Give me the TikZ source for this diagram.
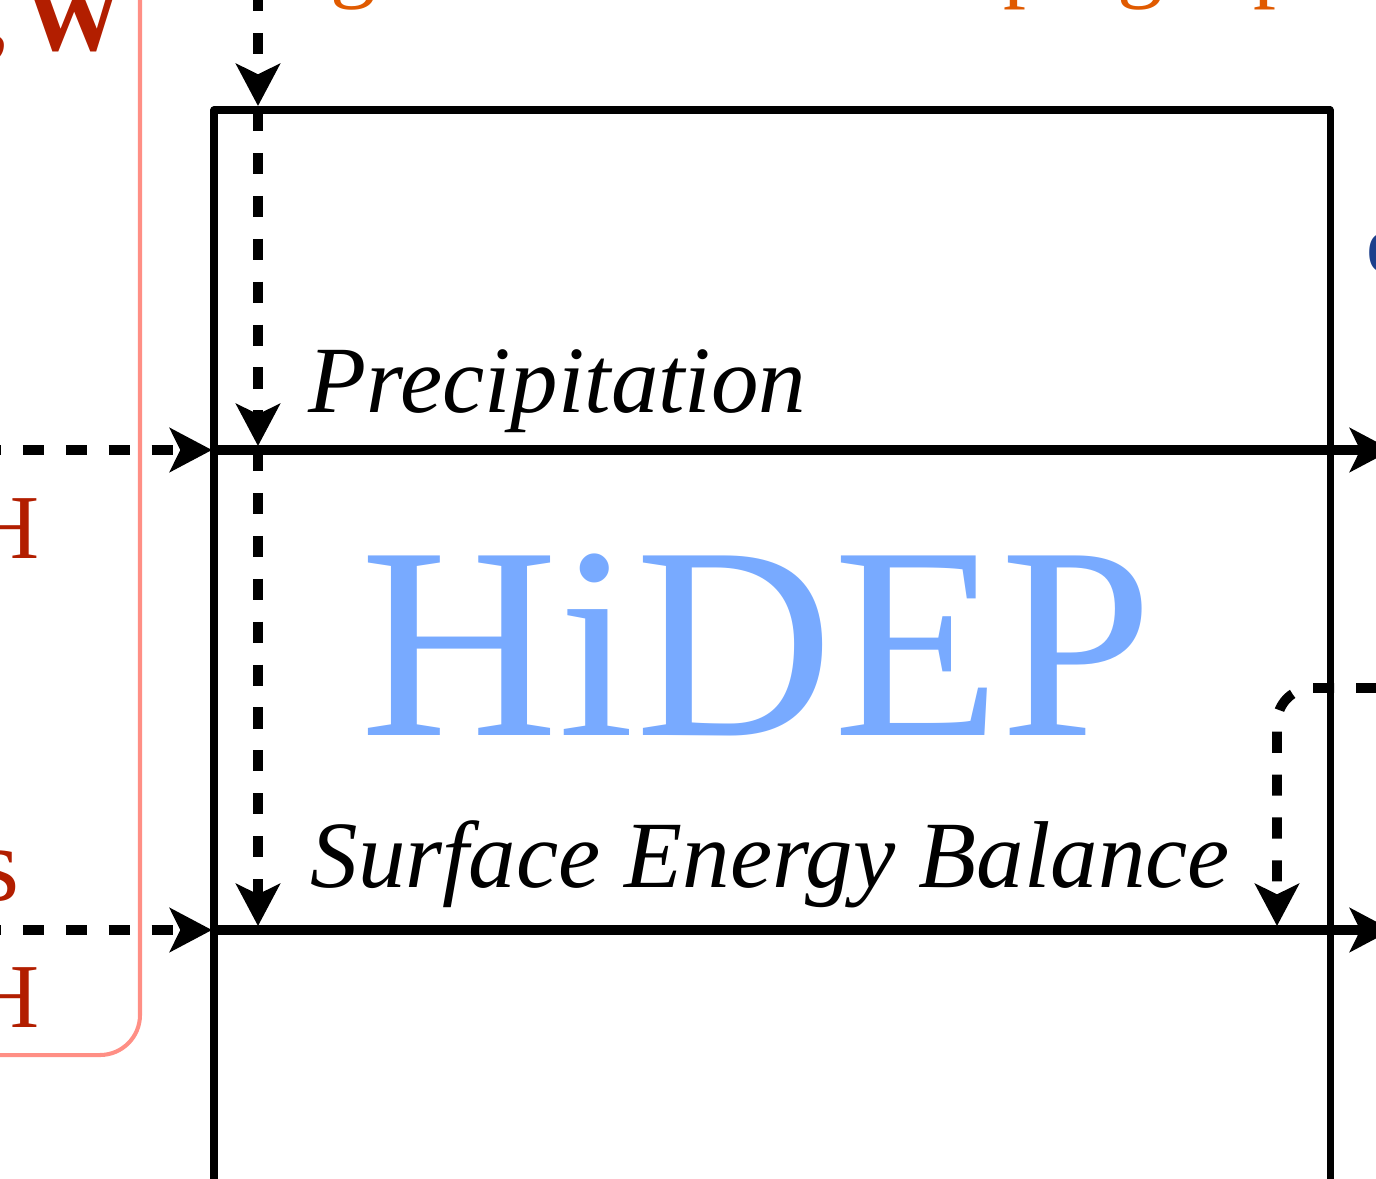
\documentclass[tikz,border=0pt]{standalone}
\usepackage{fontspec}
\setmainfont{Liberation Serif}
\usetikzlibrary{arrows.meta}

\definecolor{hidepblue}{HTML}{78AAFF}
\definecolor{forcered}{HTML}{B21E00}
\definecolor{forcebox}{HTML}{FF8F85}
\definecolor{topoorange}{HTML}{E05A00}
\definecolor{outblue}{HTML}{1C3F8C}

\tikzset{
  flux/.style={line width=2.8pt, -{Stealth[length=12pt,width=12.5pt,inset=3pt]}},
  dflux/.style={flux, dash pattern=on 6pt off 6.2pt},
  frame/.style={line width=2pt, line join=round},
  lbl/.style={font=\fontsize{27}{30}\selectfont\itshape, anchor=base west, inner sep=0pt},
  redtxt/.style={font=\fontsize{26}{30}\selectfont, text=forcered, inner sep=0pt},
  orangetxt/.style={font=\fontsize{26}{30}\selectfont, text=topoorange, inner sep=0pt, anchor=base west},
}

\begin{document}
\begin{tikzpicture}[x=0.01cm, y=-0.01cm]
  \useasboundingbox (0,0) rectangle (1376,1178);
  \clip (0,0) rectangle (1376,1178);

  % forcing box on the left
  \draw[forcebox, line width=1.15pt, rounded corners=0.4cm] (-300,-80) rectangle (140,1055);
  \node[redtxt, font=\fontsize{28}{30}\selectfont\bfseries, anchor=base east] (forcew) at (124,50) {,\,W};
  \node[redtxt, anchor=base east] (forceh1) at (40,558) {H};
  \node[redtxt, font=\fontsize{30}{34}\selectfont, anchor=base east] (forces) at (20,900) {s};
  \node[redtxt, anchor=base east] (forceh2) at (40,1027) {H};

  % topography label above
  \node[orangetxt] (topo1) at (330,-10) {g};
  \node[orangetxt] (topo2) at (1003,-10) {p};
  \node[orangetxt] (topo3) at (1117,-10) {g};
  \node[orangetxt] (topo4) at (1253,-10) {p};

  % output label on the right
  \node[text=outblue, font=\fontsize{24}{28}\selectfont\bfseries, anchor=base west, inner sep=0pt] (outlbl) at (1366,272) {o};

  % model frame
  \coordinate (bl) at (214,1260);
  \coordinate (tl) at (214,110);
  \coordinate (tr) at (1330,110);
  \coordinate (br) at (1330,1260);
  \draw[frame] (bl) -- (tl) -- (tr) -- (br);

  % levels
  \coordinate (precL) at (214,450);
  \coordinate (precR) at (1392,450);
  \coordinate (sebL) at (214,930);
  \coordinate (sebR) at (1392,930);
  \draw[flux] (precL) -- (precR);
  \draw[flux] (sebL) -- (sebR);

  % forcing inputs
  \coordinate (inP) at (-20,450);
  \coordinate (inS) at (-20,930);
  \draw[dflux] (inP) -- (212,450);
  \draw[dflux] (inS) -- (212,930);

  % vertical transfer
  \coordinate (vtop) at (258,-10);
  \coordinate (vbox) at (258,110);
  \coordinate (vprec) at (258,450);
  \draw[dflux] (vtop) -- (258,106);
  \draw[dflux] (vbox) -- (258,446);
  \draw[dflux] (vprec) -- (258,926);

  % feedback from the right
  \coordinate (fb) at (1420,688);
  \draw[dflux, rounded corners=0.35cm] (fb) -| (1277,926);

  \node[lbl] (prec) at (308,412) {Precipitation};
  \node[lbl] (seb) at (310,887) {Surface Energy Balance};
  \node[text=hidepblue, font=\fontsize{78}{82}\selectfont, anchor=base west, inner sep=0pt] (model) at (360,735) {HiDEP};
\end{tikzpicture}
\end{document}
